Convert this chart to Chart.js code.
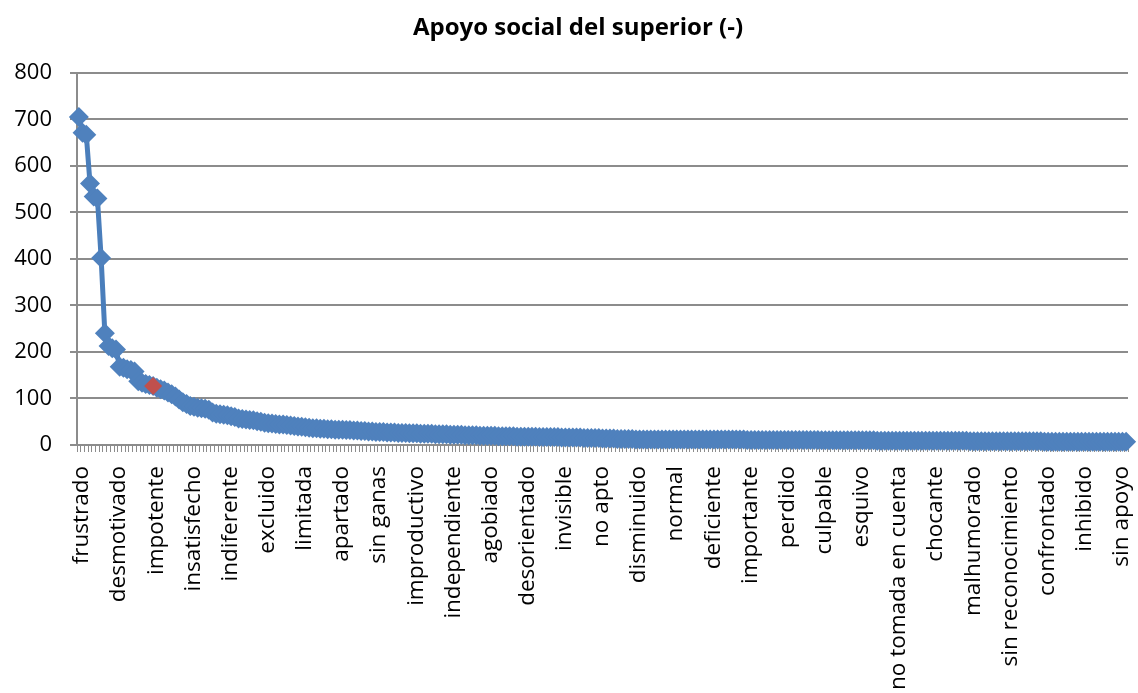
<!DOCTYPE html>
<html>
<head>
<meta charset="utf-8">
<script src="https://cdn.jsdelivr.net/npm/chart.js@4/dist/chart.umd.min.js"></script>
<style>
 html, body { margin: 0; padding: 0; background: #ffffff; }
 #chartWrap { width: 1138px; height: 693px; }
</style>
</head>
<body>
<div id="chartWrap"><canvas id="superiorChart" width="1138" height="693"></canvas></div>
<script>
var chartTitle = "Apoyo social del superior (-)";

// only every 10th word is printed under the axis
var shownLabels = [
 "frustrado", "desmotivado", "impotente", "insatisfecho", "indiferente",
 "excluido", "limitada", "apartado", "sin ganas", "improductivo",
 "independiente", "agobiado", "desorientado", "invisible", "no apto",
 "disminuido", "normal", "deficiente", "importante", "perdido",
 "culpable", "esquivo", "no tomada en cuenta", "chocante", "malhumorado",
 "sin reconocimiento", "confrontado", "inhibido", "sin apoyo"
];
var labelEvery = 10;

var yTicks = [0, 100, 200, 300, 400, 500, 600, 700, 800];

// frequency per word, sorted high to low
var frequencies = [
 705, 671, 667, 562, 534, 530, 402, 240, 213, 208,
 205, 168, 166, 163, 161, 158, 137, 134, 131, 129,
 127, 123, 120, 117, 113, 109, 104, 98, 92, 88,
 84, 82, 80, 79, 78, 76, 70, 67, 66, 65,
 64, 62, 60, 57, 56, 55, 54, 53, 51, 50,
 48, 47, 46, 45, 44, 44, 43, 42, 41, 40,
 39, 38, 37, 36, 36, 35, 35, 34, 34, 33,
 33, 33, 32, 32, 31, 31, 30, 30, 29, 29,
 28, 28, 28, 27, 27, 27, 26, 26, 26, 25,
 25, 25, 24, 24, 24, 24, 23, 23, 23, 23,
 22, 22, 22, 22, 21, 21, 21, 21, 20, 20,
 20, 20, 20, 19, 19, 19, 19, 19, 18, 18,
 18, 18, 18, 18, 17, 17, 17, 17, 17, 17,
 16, 16, 16, 16, 16, 16, 15, 15, 15, 15,
 15, 14, 14, 14, 14, 13, 13, 13, 13, 13,
 12, 12, 12, 12, 12, 12, 12, 12, 12, 12,
 12, 12, 12, 12, 12, 12, 12, 12, 12, 12,
 12, 12, 12, 12, 12, 12, 12, 12, 12, 12,
 11, 11, 11, 11, 11, 11, 11, 11, 11, 11,
 11, 11, 11, 11, 11, 11, 11, 11, 11, 11,
 10, 10, 10, 10, 10, 10, 10, 10, 10, 10,
 10, 10, 10, 10, 10, 9, 9, 9, 9, 9,
 9, 9, 9, 9, 9, 9, 9, 9, 9, 9,
 9, 9, 9, 9, 9, 9, 9, 9, 9, 9,
 8, 8, 8, 8, 8, 8, 8, 8, 8, 8,
 8, 8, 8, 8, 8, 8, 8, 8, 8, 8,
 7, 7, 7, 7, 7, 7, 7, 7, 7, 7,
 7, 7, 7, 7, 7, 7, 7, 7, 7, 7,
 7, 7, 7
];

// the one word marked in red
var highlightIndex = 20;

var lineBlue = "#4A7EBB";
var markerBlue = "#4F81BD";
var markerRed = "#C0504D";
var gridGray = "#8C8C8C";

var categories = frequencies.map(function (v, i) {
 return i % labelEvery === 0 ? shownLabels[i / labelEvery] || "" : "";
});

var highlighted = frequencies.map(function (v, i) {
 return i === highlightIndex ? v : null;
});

// nudge the title a little to the right, over the plot
var titleShift = {
 id: "titleShift",
 afterLayout: function (chart) {
  if (chart.titleBlock) {
   chart.titleBlock.left += 9;
   chart.titleBlock.right += 9;
  }
 },
};

var chartDiv = document.getElementById("superiorChart");

new Chart(chartDiv, {
 type: "line",
 data: {
  labels: categories,
  datasets: [
   {
    label: chartTitle,
    data: frequencies,
    order: 1,
    borderColor: lineBlue,
    borderWidth: 5,
    tension: 0,
    pointStyle: "rectRot",
    pointRadius: 10,
    pointBorderWidth: 0,
    pointBackgroundColor: markerBlue,
    pointBorderColor: markerBlue,
    clip: false,
   },
   {
    label: shownLabels[highlightIndex / labelEvery],
    data: highlighted,
    order: 0,
    showLine: false,
    pointStyle: "rectRot",
    pointRadius: 9,
    pointBorderWidth: 0,
    pointBackgroundColor: markerRed,
    pointBorderColor: markerRed,
    clip: false,
   },
  ],
 },
 plugins: [titleShift],
 options: {
  responsive: false,
  animation: false,
  devicePixelRatio: 1,
  layout: { padding: 0 },
  plugins: {
   legend: { display: false },
   tooltip: { enabled: false },
   title: {
    display: true,
    text: chartTitle,
    color: "#000",
    font: { family: "'Open Sans'", size: 24, weight: "bold", lineHeight: 1.2 },
    padding: { top: 14, bottom: 30 },
   },
  },
  scales: {
   x: {
    offset: true,
    afterFit: function (scale) {
     scale.height = 248;
     scale.paddingLeft = 0;
     scale.paddingRight = 0;
    },
    grid: {
     offset: true,
     drawOnChartArea: false,
     drawTicks: true,
     tickLength: 7,
     color: gridGray,
     lineWidth: 1,
    },
    border: { color: gridGray, width: 2 },
    ticks: {
     autoSkip: false,
     maxRotation: 90,
     minRotation: 90,
     padding: 14,
     labelOffset: 3,
     color: "#000",
     font: { family: "'Open Sans'", size: 22.5 },
    },
   },
   y: {
    min: yTicks[0],
    max: yTicks[yTicks.length - 1],
    afterFit: function (scale) {
     scale.width = 77;
    },
    afterBuildTicks: function (scale) {
     scale.ticks = yTicks.map(function (v) {
      return { value: v };
     });
    },
    grid: {
     color: gridGray,
     lineWidth: 2,
     tickLength: 7,
    },
    border: { color: gridGray, width: 2 },
    ticks: {
     padding: 18,
     color: "#000",
     font: { family: "'Open Sans'", size: 22 },
    },
   },
  },
 },
});
</script>
</body>
</html>
